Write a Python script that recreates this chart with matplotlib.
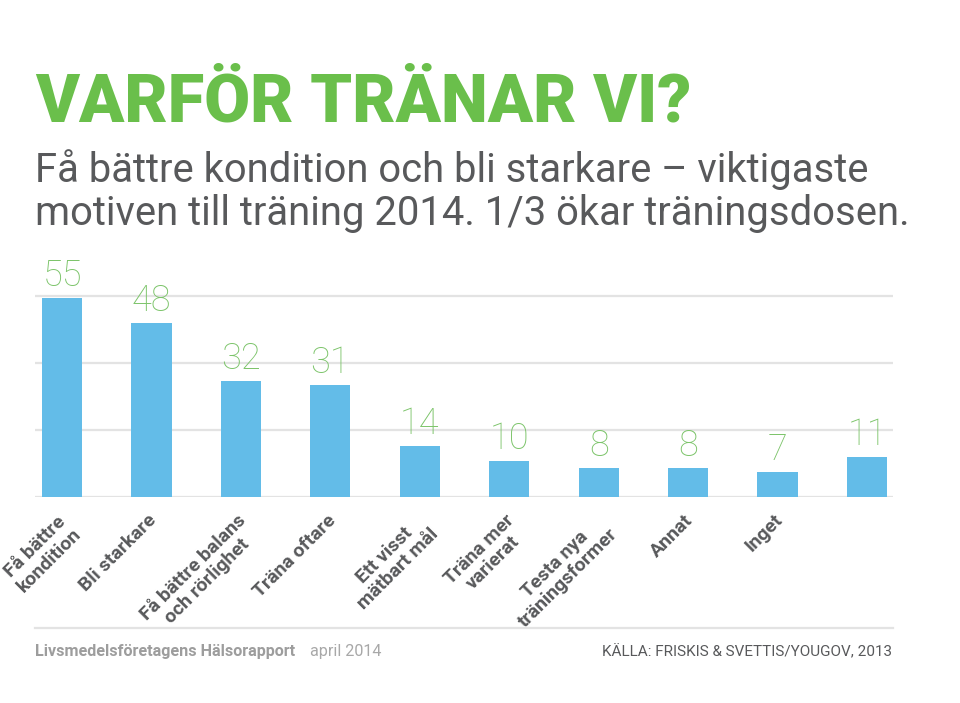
import matplotlib.pyplot as plt
from matplotlib import font_manager

categories = ["Få bättre\nkondition", "Bli starkare", "Få bättre balans\noch rörlighet",
              "Träna oftare", "Ett visst\nmätbart mål", "Träna mer\nvarierat",
              "Testa nya\nträningsformer", "Annat", "Inget", ""]
values = [55, 48, 32, 31, 14, 10, 8, 8, 7, 11]
grid_levels = [0, 18.5, 37, 55.5]

title = "VARFÖR TRÄNAR VI?"
subtitle = "Få bättre kondition och bli starkare – viktigaste\nmotiven till träning 2014. 1/3 ökar träningsdosen."
footer_left = "Livsmedelsföretagens Hälsorapport"
footer_date = "april 2014"
footer_right = "KÄLLA: FRISKIS & SVETTIS/YOUGOV, 2013"

GREEN = "#6abf4b"
LABEL_GREEN = "#7cc46a"
BLUE = "#63bce8"
DARK = "#58595b"
GRID = "#e3e3e3"

installed = {f.name for f in font_manager.fontManager.ttflist}


def pick(names):
    for n in names:
        if n in installed:
            return n
    return "DejaVu Sans"


title_font = pick(["DejaVu Sans Condensed", "Liberation Sans Narrow", "Roboto", "Open Sans"])
main_font = pick(["Roboto", "Open Sans", "DejaVu Sans"])

fig = plt.figure(figsize=(9.6, 7.03), dpi=100)
fig.patch.set_facecolor("white")

ax = fig.add_axes([35 / 960, 1 - 497 / 703, 858 / 960, 237 / 703])
x = list(range(len(values)))
ax.bar(x, values, width=0.45, color=BLUE, zorder=3)
ax.set_xlim(-0.302, 9.29)
ax.set_ylim(0, 65.5)
ax.set_yticks(grid_levels)
ax.yaxis.grid(True, color=GRID, linewidth=1.6, zorder=0)
ax.tick_params(left=False, bottom=False, labelleft=False, labelbottom=False)
for s in ax.spines.values():
    s.set_visible(False)

for xi, v in zip(x, values):
    ax.annotate(str(v), (xi, v), xytext=(0, 4), textcoords="offset pixels",
                ha="center", va="bottom", fontsize=26, color=LABEL_GREEN,
                family=main_font, fontweight="light", zorder=4)

# category labels: top line ends just under the bar centre
for xi, lab in zip(x, categories):
    if not lab:
        continue
    ax.annotate(lab, (xi, 0), xytext=(-4, -14), textcoords="offset pixels",
                rotation=45, rotation_mode="anchor", ha="right", va="top",
                multialignment="center", fontsize=14, fontweight="bold",
                color=DARK, family=main_font, linespacing=1.1)

fig.text(35 / 960, 1 - 122 / 703, title, fontsize=48, fontweight="heavy",
         color=GREEN, family=title_font, ha="left", va="baseline")
fig.text(35 / 960, 1 - 225 / 703, subtitle, fontsize=28.8, color=DARK,
         family=main_font, ha="left", va="baseline", linespacing=1.12)

fig.add_artist(plt.Line2D([35 / 960, 893 / 960], [1 - 628 / 703] * 2,
                          color=GRID, linewidth=1.6))
fig.text(35 / 960, 1 - 656 / 703, footer_left, fontsize=11.6, fontweight="bold",
         color="#9d9d9d", family=main_font, ha="left", va="baseline")
fig.text(310 / 960, 1 - 656 / 703, footer_date, fontsize=11.6, color="#a8a8a8",
         family=main_font, ha="left", va="baseline")
fig.text(892 / 960, 1 - 656 / 703, footer_right, fontsize=11, color=DARK,
         family=main_font, ha="right", va="baseline")

fig.savefig("out.png", dpi=100, facecolor="white")
